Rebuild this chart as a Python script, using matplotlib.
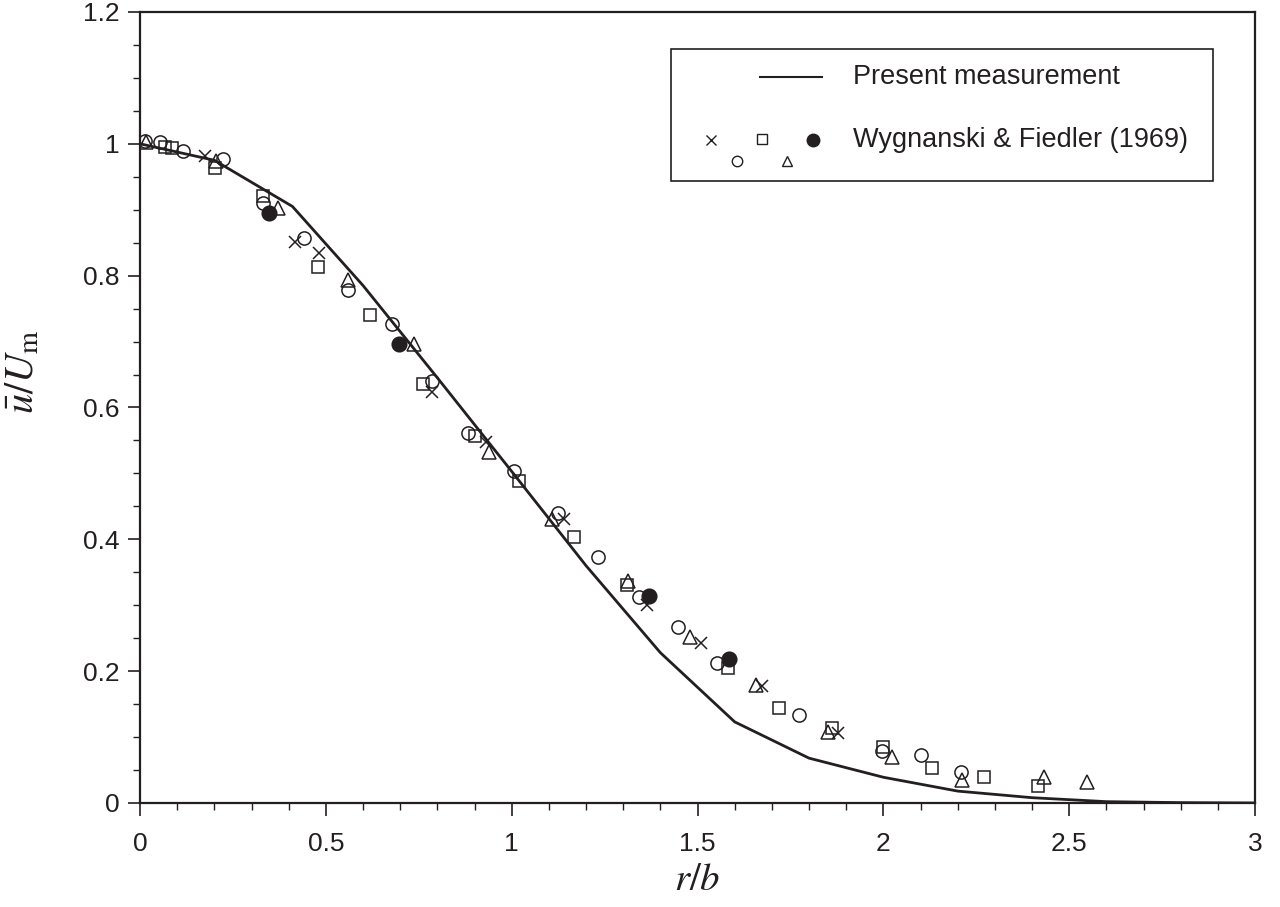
"""
Mean velocity profile: present measurement vs Wygnanski & Fiedler (1969)
"""

import matplotlib
matplotlib.use('Agg')
import matplotlib.pyplot as plt
from matplotlib.patches import Rectangle
from matplotlib.ticker import MultipleLocator

# present measurement (solid line)
line_x = [0.0, 0.2, 0.41, 0.6, 0.8, 1.0, 1.2, 1.4, 1.6, 1.8, 2.0, 2.2, 2.4, 2.6, 2.8, 3.0]
line_y = [1.0, 0.975, 0.905, 0.785, 0.645, 0.503, 0.36, 0.228, 0.123, 0.068, 0.039, 0.018, 0.008, 0.002, 0.0005, 0.0]

# Wygnanski & Fiedler (1969)
cross_x = [0.175, 0.417, 0.482, 0.786, 0.931, 1.141, 1.364, 1.509, 1.673, 1.878]
cross_y = [0.981, 0.851, 0.834, 0.624, 0.548, 0.431, 0.301, 0.243, 0.178, 0.106]

circle_x = [0.013, 0.054, 0.116, 0.223, 0.331, 0.441, 0.560, 0.678, 0.786, 0.883, 1.006,
            1.125, 1.232, 1.342, 1.447, 1.552, 1.773, 1.996, 2.101, 2.209]
circle_y = [1.005, 1.003, 0.989, 0.977, 0.910, 0.857, 0.778, 0.726, 0.640, 0.562, 0.503,
            0.440, 0.373, 0.313, 0.267, 0.213, 0.134, 0.079, 0.073, 0.047]

square_x = [0.067, 0.086, 0.202, 0.331, 0.479, 0.619, 0.761, 0.901, 1.020, 1.168, 1.310,
            1.582, 1.719, 1.862, 1.999, 2.131, 2.271, 2.416]
square_y = [0.995, 0.993, 0.963, 0.921, 0.813, 0.741, 0.636, 0.556, 0.488, 0.404, 0.331,
            0.205, 0.144, 0.114, 0.085, 0.053, 0.039, 0.025]

tri_x = [0.015, 0.204, 0.371, 0.560, 0.737, 0.939, 1.108, 1.313, 1.480, 1.657, 1.851,
         2.023, 2.211, 2.432, 2.548]
tri_y = [1.003, 0.974, 0.902, 0.793, 0.696, 0.533, 0.431, 0.336, 0.252, 0.179, 0.108,
         0.070, 0.035, 0.039, 0.032]

dot_x = [0.347, 0.697, 1.369, 1.585]
dot_y = [0.895, 0.696, 0.314, 0.219]

plt.rcParams['font.family'] = ['Liberation Sans', 'DejaVu Sans']
plt.rcParams['mathtext.fontset'] = 'stix'

ink = '#231f20'

fig = plt.figure(figsize=(12.8, 9.07), dpi=100)
ax = fig.add_axes([0.1094, 0.1147, 0.8711, 0.8721])

ax.plot(line_x, line_y, color=ink, lw=2.0, zorder=2)

ms = 9.5
mew = 1.1
ax.plot(cross_x, cross_y, ls='none', marker='x', ms=ms - 0.5, mew=mew, color=ink, zorder=3)
ax.plot(circle_x, circle_y, ls='none', marker='o', ms=ms, mew=mew, mfc='none', mec=ink, zorder=3)
ax.plot(square_x, square_y, ls='none', marker='s', ms=ms - 1.2, mew=mew, mfc='none', mec=ink, zorder=3)
ax.plot(tri_x, tri_y, ls='none', marker='^', ms=ms, mew=mew, mfc='none', mec=ink, zorder=3)
ax.plot(dot_x, dot_y, ls='none', marker='o', ms=ms + 1.0, mew=mew, color=ink, zorder=4)

ax.set_xlim(0, 3)
ax.set_ylim(0, 1.2)
ax.xaxis.set_major_locator(MultipleLocator(0.5))
ax.xaxis.set_minor_locator(MultipleLocator(0.1))
ax.yaxis.set_major_locator(MultipleLocator(0.2))
ax.yaxis.set_minor_locator(MultipleLocator(0.05))
ax.xaxis.set_major_formatter(plt.FuncFormatter(lambda v, p: f'{v:g}'))
ax.yaxis.set_major_formatter(plt.FuncFormatter(lambda v, p: f'{v:g}'))

ax.tick_params(which='major', direction='out', length=9, width=1.2, labelsize=19, colors=ink, pad=6)
ax.tick_params(which='minor', direction='out', length=5, width=1.0, colors=ink)
ax.tick_params(axis='x', pad=12)
for s in ax.spines.values():
    s.set_linewidth(1.6)
    s.set_color(ink)

ax.set_xlabel(r'$r/b$', fontsize=28, color=ink, labelpad=4)
ax.set_ylabel(r'$\bar{u}/U_\mathrm{m}$', fontsize=29, color=ink)
ax.yaxis.set_label_coords(-0.088, 0.545)

# legend drawn by hand (staggered markers)
ax.add_patch(Rectangle((0.476, 0.786), 0.486, 0.167, transform=ax.transAxes,
                       fill=False, ec=ink, lw=1.2, zorder=5))
ax.plot([0.556, 0.612], [0.918, 0.918], transform=ax.transAxes, color=ink, lw=1.5, zorder=5)
ax.text(0.639, 0.918, 'Present measurement', transform=ax.transAxes, fontsize=19.5,
        va='center', ha='left', color=ink)
lms = 7.5
ax.plot([0.512], [0.838], transform=ax.transAxes, marker='x', ms=lms - 0.5, mew=1.0, color=ink, ls='none')
ax.plot([0.535], [0.811], transform=ax.transAxes, marker='o', ms=lms, mew=1.0, mfc='none', mec=ink, ls='none')
ax.plot([0.558], [0.839], transform=ax.transAxes, marker='s', ms=lms - 1.0, mew=1.0, mfc='none', mec=ink, ls='none')
ax.plot([0.580], [0.811], transform=ax.transAxes, marker='^', ms=lms, mew=1.0, mfc='none', mec=ink, ls='none')
ax.plot([0.604], [0.838], transform=ax.transAxes, marker='o', ms=lms + 1.5, color=ink, ls='none')
ax.text(0.639, 0.838, 'Wygnanski & Fiedler (1969)', transform=ax.transAxes, fontsize=19.5,
        va='center', ha='left', color=ink)

fig.savefig('out.png', dpi=100)
